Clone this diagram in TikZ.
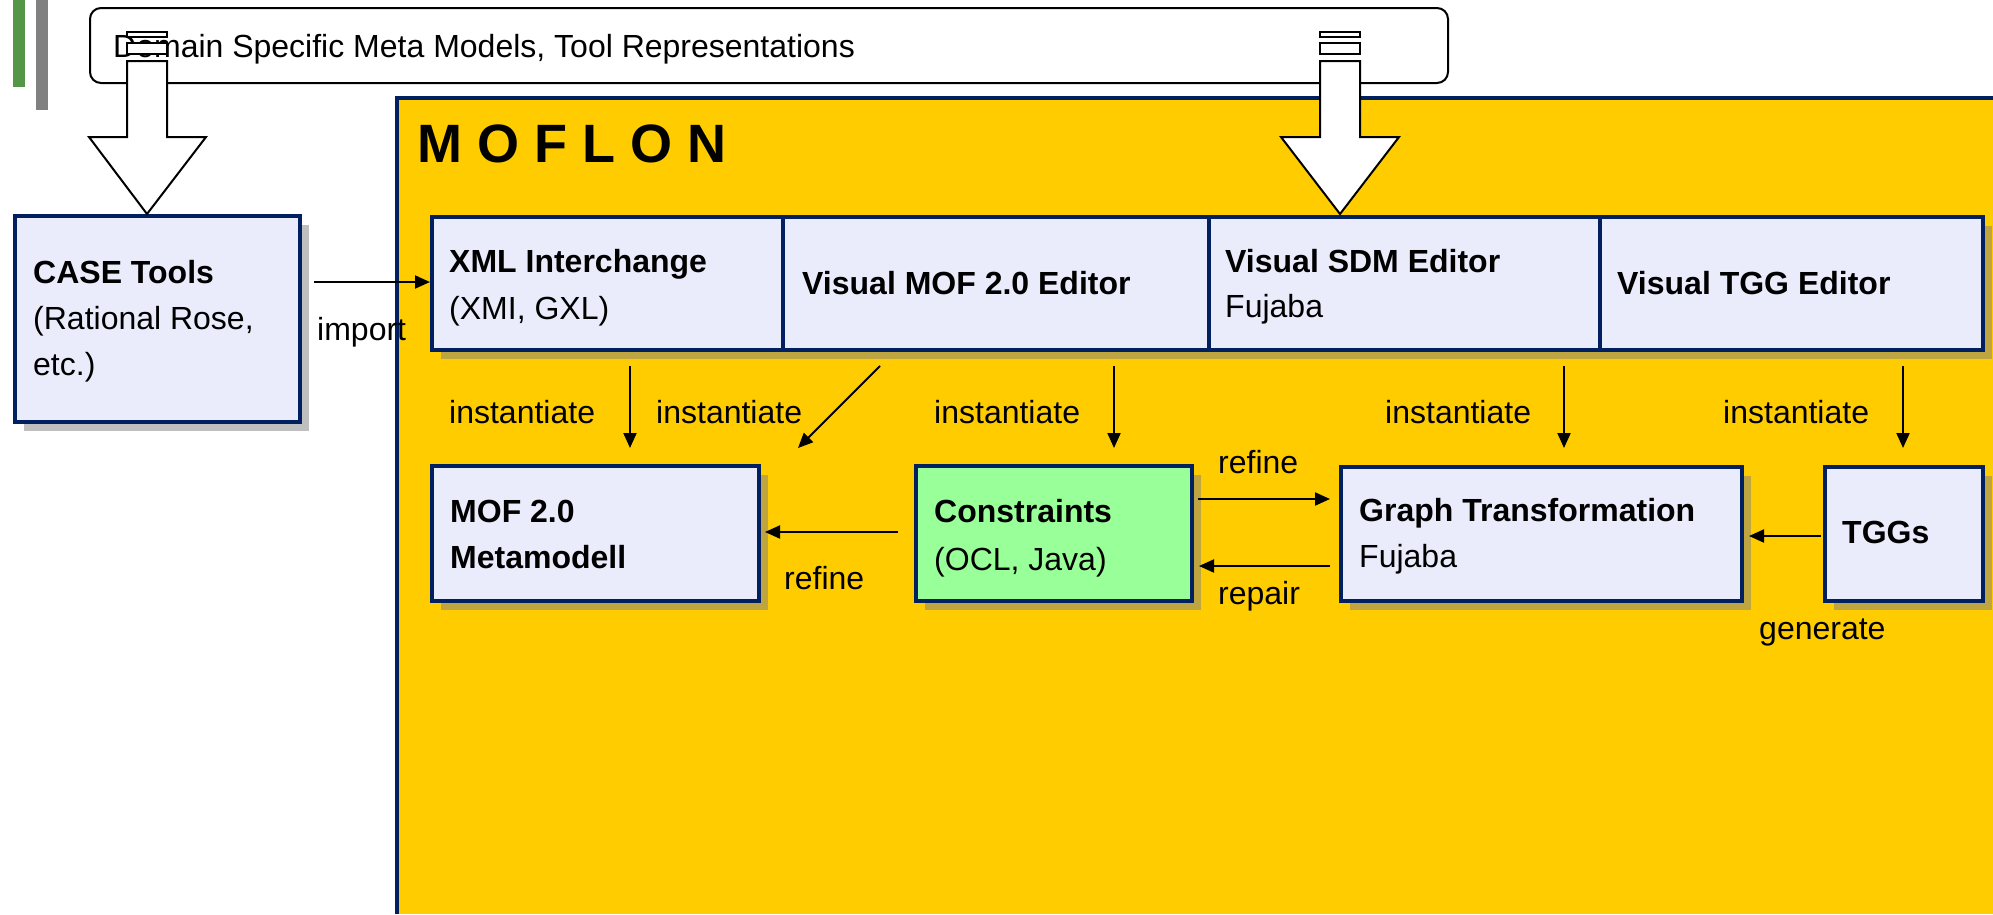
\documentclass[tikz,border=0pt]{standalone}
\usepackage{fontspec}
\setmainfont{Liberation Sans}
\usetikzlibrary{arrows.meta,shadows}
\definecolor{moyellow}{RGB}{255,204,0}
\definecolor{monavy}{RGB}{0,32,96}
\definecolor{mofill}{RGB}{234,236,252}
\definecolor{mogreen}{RGB}{153,255,153}
\definecolor{barGreen}{RGB}{84,150,72}
\definecolor{barGray}{RGB}{128,128,128}
\begin{document}
\begin{tikzpicture}[x=1pt,y=-1pt,
  txt/.style={anchor=base west, inner sep=0pt, font=\fontsize{32}{38}\selectfont},
  btxt/.style={anchor=base west, inner sep=0pt, font=\fontsize{32}{38}\selectfont\bfseries},
  diabox/.style={draw=monavy, line width=3.5pt, fill=mofill, anchor=north west, inner sep=0pt,
     drop shadow={shadow xshift=9pt, shadow yshift=-9pt}},
  arr/.style={line width=2pt, -{Triangle[length=15pt,width=13pt]}},
  blockarrow/.style={draw=black, line width=2pt, fill=white, line join=miter}
]
\useasboundingbox (0,0) rectangle (1993,914);

% side bars
\fill[barGreen] (13,0) rectangle (25,87);
\fill[barGray] (36,0) rectangle (48,110);

% top rounded box
\node[draw=black, line width=2pt, fill=white, rounded corners=11pt, anchor=north west,
      minimum width=1358pt, minimum height=75pt, inner sep=0pt] (domain) at (89,7) {};
\node[txt] (domaintxt) at (113,57) {Domain Specific Meta Models, Tool Representations};

% MOFLON area
\fill[moyellow] (397,98) rectangle (1993,914);
\draw[monavy, line width=4pt] (397,914) -- (397,98) -- (1993,98);
\node[anchor=base west, inner sep=0pt, font=\fontsize{54}{60}\selectfont\bfseries] (moflon) at (417,162) {M O F L O N};

% CASE tools
\node[diabox, minimum width=285pt, minimum height=206pt] (case) at (13,214) {};
\node[btxt] (case1) at (33,283) {CASE Tools};
\node[txt] (case2) at (33,329) {(Rational Rose,};
\node[txt] (case3) at (33,375) {etc.)};

% top row
\node[diabox, minimum width=351pt, minimum height=133pt] (xml) at (430,215) {};
\node[diabox, minimum width=426pt, minimum height=133pt] (vmof) at (781,215) {};
\node[diabox, minimum width=391pt, minimum height=133pt] (vsdm) at (1207,215) {};
\node[diabox, minimum width=383pt, minimum height=133pt] (vtgg) at (1598,215) {};
\node[btxt] (xml1) at (449,272) {XML Interchange};
\node[txt] (xml2) at (449,319) {(XMI, GXL)};
\node[btxt] (vmof1) at (802,294) {Visual MOF 2.0 Editor};
\node[btxt] (vsdm1) at (1225,272) {Visual SDM Editor};
\node[txt] (vsdm2) at (1225,317) {Fujaba};
\node[btxt] (vtgg1) at (1617,294) {Visual TGG Editor};

% bottom row
\node[diabox, minimum width=327pt, minimum height=135pt] (mof) at (430,464) {};
\node[diabox, fill=mogreen, minimum width=276pt, minimum height=135pt] (cons) at (914,464) {};
\node[diabox, minimum width=401pt, minimum height=134pt] (gt) at (1339,465) {};
\node[diabox, minimum width=158pt, minimum height=134pt] (tggs) at (1823,465) {};
\node[btxt] (mof1) at (450,522) {MOF 2.0};
\node[btxt] (mof2) at (450,568) {Metamodell};
\node[btxt] (cons1) at (934,522) {Constraints};
\node[txt] (cons2) at (934,570) {(OCL, Java)};
\node[btxt] (gt1) at (1359,521) {Graph Transformation};
\node[txt] (gt2) at (1359,567) {Fujaba};
\node[btxt] (tggs1) at (1842,543) {TGGs};

% connector end points
\coordinate (impS) at (314,282);
\coordinate (i1s) at (630,366);  \coordinate (i1e) at (630,448);
\coordinate (i2s) at (880,366);  \coordinate (i2e) at (798,448);
\coordinate (i3s) at (1114,366); \coordinate (i3e) at (1114,448);
\coordinate (i4s) at (1564,366); \coordinate (i4e) at (1564,448);
\coordinate (i5s) at (1903,366); \coordinate (i5e) at (1903,448);
\coordinate (rfS) at (898,532);  \coordinate (rfE) at (765,532);
\coordinate (ruS) at (1198,499); \coordinate (ruE) at (1330,499);
\coordinate (rpS) at (1330,566); \coordinate (rpE) at (1199,566);
\coordinate (gnS) at (1821,536); \coordinate (gnE) at (1749,536);

\draw[arr] (impS) -- (xml.west |- impS);
\draw[arr] (i1s) -- (i1e);
\draw[arr] (i2s) -- (i2e);
\draw[arr] (i3s) -- (i3e);
\draw[arr] (i4s) -- (i4e);
\draw[arr] (i5s) -- (i5e);
\draw[arr] (rfS) -- (rfE);
\draw[arr] (ruS) -- (ruE);
\draw[arr] (rpS) -- (rpE);
\draw[arr] (gnS) -- (gnE);

% labels
\node[txt] (limport) at (317,340) {import};
\node[txt] (li1) at (449,423) {instantiate};
\node[txt] (li2) at (656,423) {instantiate};
\node[txt] (li3) at (934,423) {instantiate};
\node[txt] (li4) at (1385,423) {instantiate};
\node[txt] (li5) at (1723,423) {instantiate};
\node[txt] (lrefine1) at (784,589) {refine};
\node[txt] (lrefine2) at (1218,473) {refine};
\node[txt] (lrepair) at (1218,604) {repair};
\node[txt] (lgen) at (1759,639) {generate};

% block arrows
\draw[blockarrow] (127,61) -- (167,61) -- (167,137) -- (206,137) -- (147,214) -- (89,137) -- (127,137) -- cycle;
\draw[blockarrow, line width=1.6pt] (127,32) rectangle (167,37);
\draw[blockarrow, line width=1.6pt] (127,43) rectangle (167,54);
\draw[blockarrow] (1320,61) -- (1360,61) -- (1360,137) -- (1399,137) -- (1340,214) -- (1281,137) -- (1320,137) -- cycle;
\draw[blockarrow, line width=1.6pt] (1320,32) rectangle (1360,37);
\draw[blockarrow, line width=1.6pt] (1320,43) rectangle (1360,54);
\end{tikzpicture}
\end{document}
